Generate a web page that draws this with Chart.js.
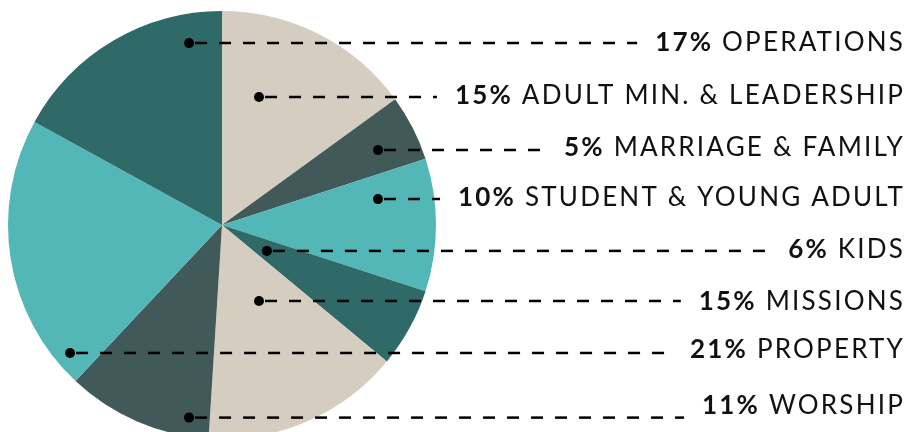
<!DOCTYPE html>
<html>
<head>
<meta charset="utf-8">
<script src="https://cdn.jsdelivr.net/npm/chart.js@4.4.1/dist/chart.umd.min.js"></script>
<style>
  body { margin: 0; background: #fff; }
  #wrap { width: 909px; height: 432px; overflow: hidden; position: relative; }
</style>
</head>
<body>
<div id="wrap"><canvas id="budgetChart" width="909" height="440"></canvas></div>
<script>
// slices, clockwise from 12 o'clock
const categories = ["ADULT MIN. & LEADERSHIP", "MARRIAGE & FAMILY", "STUDENT & YOUNG ADULT", "KIDS", "MISSIONS", "WORSHIP", "PROPERTY", "OPERATIONS"];
const percents = [15, 5, 10, 6, 15, 11, 21, 17];
const sliceColors = ["#d5cdc0", "#42595a", "#53b6b7", "#2f6a68", "#d5cdc0", "#42595a", "#53b6b7", "#2f6a68"];

// callout rows top to bottom (index into categories)
const rowOrder = [7, 0, 1, 2, 3, 4, 6, 5];
// text centre y for each row
const rowTextY = [43, 96, 148, 198, 250, 302, 350, 406];
// dot position per row, as a fraction of the pie radius from its centre
const dotPos = [[-0.154, -0.850], [0.173, -0.598], [0.729, -0.350], [0.729, -0.121],
                [0.210, 0.121], [0.173, 0.355], [-0.710, 0.598], [-0.154, 0.900]];

const calloutPlugin = {
    id: "callouts",
    afterDraw(chart) {
        const ctx = chart.ctx;
        const arc = chart.getDatasetMeta(0).data[0];
        const cx = arc.x, cy = arc.y, r = arc.outerRadius;
        const right = 905;
        const regular = "400 26px Lato";
        const bold = "700 26px Lato";
        ctx.save();
        ctx.textBaseline = "middle";
        ctx.letterSpacing = "2.2px";
        rowOrder.forEach((idx, row) => {
            const ty = rowTextY[row];
            ctx.font = regular;
            const name = categories[idx];
            const nameW = ctx.measureText(name).width;
            const spaceW = ctx.measureText(" ").width;
            ctx.font = bold;
            const pct = percents[idx] + "%";
            const pctW = ctx.measureText(pct).width;
            const textStart = right - nameW - spaceW - pctW;

            ctx.fillStyle = "#111";
            ctx.textAlign = "right";
            ctx.fillText(pct, right - nameW - spaceW, ty);
            ctx.font = regular;
            ctx.fillText(name, right, ty);

            const dx = cx + dotPos[row][0] * r;
            const dy = cy + dotPos[row][1] * r;
            ctx.strokeStyle = "#000";
            ctx.lineWidth = 2.5;
            ctx.setLineDash([12, 12]);
            ctx.lineDashOffset = -6;
            ctx.beginPath();
            ctx.moveTo(dx, dy);
            ctx.lineTo(textStart - 18, dy);
            ctx.stroke();
            ctx.setLineDash([]);

            ctx.fillStyle = "#000";
            ctx.beginPath();
            ctx.arc(dx, dy, 5, 0, Math.PI * 2);
            ctx.fill();
        });
        ctx.restore();
    }
};

new Chart(document.getElementById("budgetChart"), {
    type: "pie",
    data: {
        labels: categories,
        datasets: [
            {
                data: percents,
                backgroundColor: sliceColors,
                borderWidth: 0
            }
        ]
    },
    options: {
        responsive: false,
        animation: false,
        layout: { padding: { left: 8, top: 11, right: 473, bottom: 1 } },
        plugins: {
            legend: { display: false },
            tooltip: { enabled: false }
        }
    },
    plugins: [calloutPlugin]
});
</script>
</body>
</html>
